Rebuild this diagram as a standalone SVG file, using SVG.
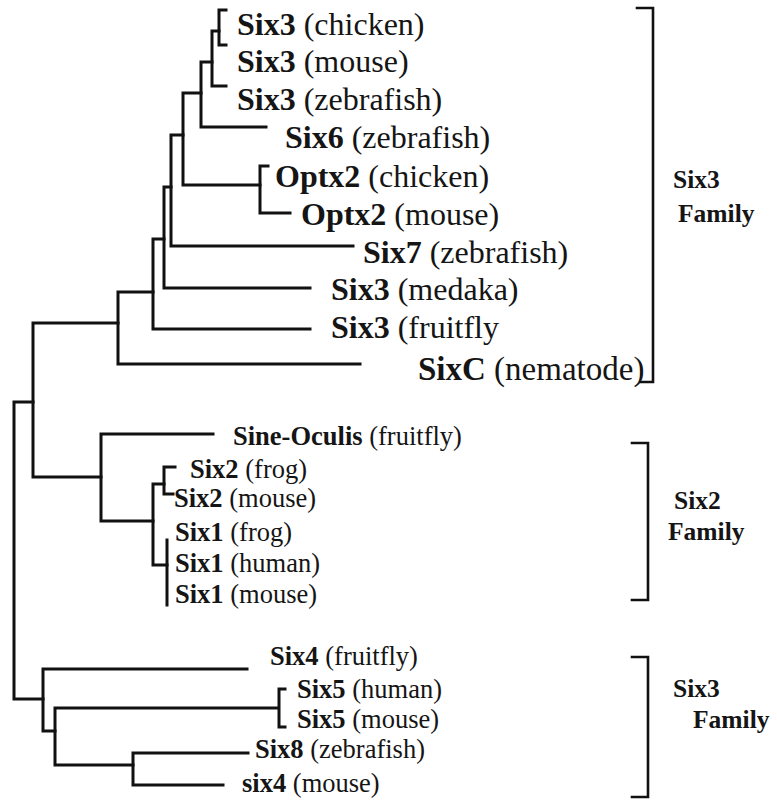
<svg xmlns="http://www.w3.org/2000/svg" width="777" height="801" viewBox="0 0 777 801">
<style>
.bg{fill:#ffffff}
.tree{fill:none;stroke:#111;stroke-width:3;stroke-linecap:square;stroke-linejoin:miter}
.br{fill:none;stroke:#111;stroke-width:2.6;stroke-linecap:square;stroke-linejoin:miter}
text{font-family:"Liberation Serif","Times New Roman",serif;fill:#151515}
.big{font-size:32px}
.mid{font-size:26.5px}
.fam{font-size:25.5px;font-weight:bold}
.b{font-weight:bold}
</style>
<rect class="bg" x="0" y="0" width="777" height="801"/>
<g id="connectors">
<path class="tree" d="M226 10 H219 V45 H226"/>
<path class="tree" d="M219 31 H212 V86 H226"/>
<path class="tree" d="M212 62 H201 V127 H266"/>
<path class="tree" d="M201 93 H183 V185 H260"/>
<path class="tree" d="M268 166 H260 V213 H290"/>
<path class="tree" d="M183 135 H171 V246 H353"/>
<path class="tree" d="M171 187 H164 V288 H310"/>
<path class="tree" d="M164 239 H153 V329 H310"/>
<path class="tree" d="M153 292 H118 V364 H360"/>
<path class="tree" d="M118 323 H33 V477 H101"/>
<path class="tree" d="M33 402 H14 V699 H43"/>
<path class="tree" d="M213 434 H101 V521 H153"/>
<path class="tree" d="M164 484 H153 V565 H167"/>
<path class="tree" d="M175 467 H164 V494 H173"/>
<path class="tree" d="M167 540 V605"/>
<path class="tree" d="M247 669 H43 V731 H55"/>
<path class="tree" d="M278 708 H55 V765 H133"/>
<path class="tree" d="M285 689 H279 V727 H285"/>
<path class="tree" d="M248 753 H133 V785 H223"/>
</g>
<g id="n-six3-chicken"><text class="big" x="237" y="35"><tspan class="b">Six3</tspan> (chicken)</text></g>
<g id="n-six3-mouse"><text class="big" x="237" y="72"><tspan class="b">Six3</tspan> (mouse)</text></g>
<g id="n-six3-zebrafish"><text class="big" x="237" y="110"><tspan class="b">Six3</tspan> (zebrafish)</text></g>
<g id="n-six6-zebrafish"><text class="big" x="285" y="148"><tspan class="b">Six6</tspan> (zebrafish)</text></g>
<g id="n-optx2-chicken"><text class="big" x="275" y="187"><tspan class="b">Optx2</tspan> (chicken)</text></g>
<g id="n-optx2-mouse"><text class="big" x="301" y="225"><tspan class="b">Optx2</tspan> (mouse)</text></g>
<g id="n-six7-zebrafish"><text class="big" x="363" y="263"><tspan class="b">Six7</tspan> (zebrafish)</text></g>
<g id="n-six3-medaka"><text class="big" x="331" y="300"><tspan class="b">Six3</tspan> (medaka)</text></g>
<g id="n-six3-fruitfly"><text class="big" x="331" y="338"><tspan class="b">Six3</tspan> (fruitfly</text></g>
<g id="n-sixc-nematode"><text class="big" x="418" y="380" style="font-size:33px"><tspan class="b">SixC</tspan> (nematode)</text></g>
<g id="n-sine-oculis"><text class="mid" x="233" y="445"><tspan class="b">Sine-Oculis</tspan> (fruitfly)</text></g>
<g id="n-six2-frog"><text class="mid" x="190" y="478"><tspan class="b">Six2</tspan> (frog)</text></g>
<g id="n-six2-mouse"><text class="mid" x="174" y="507"><tspan class="b">Six2</tspan> (mouse)</text></g>
<g id="n-six1-frog"><text class="mid" x="175" y="541"><tspan class="b">Six1</tspan> (frog)</text></g>
<g id="n-six1-human"><text class="mid" x="175" y="572"><tspan class="b">Six1</tspan> (human)</text></g>
<g id="n-six1-mouse"><text class="mid" x="175" y="603"><tspan class="b">Six1</tspan> (mouse)</text></g>
<g id="n-six4-fruitfly"><text class="mid" x="270" y="665"><tspan class="b">Six4</tspan> (fruitfly)</text></g>
<g id="n-six5-human"><text class="mid" x="297" y="698"><tspan class="b">Six5</tspan> (human)</text></g>
<g id="n-six5-mouse"><text class="mid" x="297" y="728"><tspan class="b">Six5</tspan> (mouse)</text></g>
<g id="n-six8-zebrafish"><text class="mid" x="255" y="758"><tspan class="b">Six8</tspan> (zebrafish)</text></g>
<g id="n-six4-mouse"><text class="mid" x="242" y="792"><tspan class="b">six4</tspan> (mouse)</text></g>
<g id="fam-six3-top">
<path class="br" d="M637 8 H653 V382 H641"/>
<text class="fam" x="673" y="188">Six3</text>
<text class="fam" x="678" y="222">Family</text>
</g>
<g id="fam-six2">
<path class="br" d="M632 443 H648 V600 H632"/>
<text class="fam" x="674" y="509">Six2</text>
<text class="fam" x="668" y="540">Family</text>
</g>
<g id="fam-six3-bottom">
<path class="br" d="M632 657 H648 V797 H632"/>
<text class="fam" x="673" y="697">Six3</text>
<text class="fam" x="693" y="728">Family</text>
</g>
</svg>
